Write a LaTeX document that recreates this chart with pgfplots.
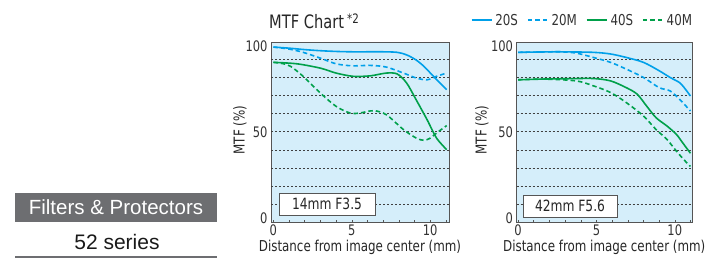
\documentclass[border=0pt]{standalone}
\usepackage{pgfplots}
\pgfplotsset{compat=1.18}
\usepackage{fontspec}
\setmainfont[FakeStretch=0.88]{DejaVu Sans Condensed}
\newfontfamily\arialfont{Liberation Sans}
\definecolor{mtfblue}{HTML}{00A0E9}
\definecolor{mtfgreen}{HTML}{00A04A}
\definecolor{mtfbg}{HTML}{D5EEFA}
\definecolor{frame}{HTML}{555555}
\definecolor{boxgray}{HTML}{6D6E71}
\pgfplotsset{
  mtf/.style={
    scale only axis, width=178bp, height=180bp,
    ymin=0, ymax=99,
    axis background/.style={fill=mtfbg},
    axis line style={frame, line width=0.8bp},
    ytick={2.6,50,97.2}, yticklabels={0,50,100},
    y tick style={draw=none},
    xtick={0,...,11}, xticklabels={0,,,,,5,,,,,10,},
    xtick pos=lower, tick align=inside,
    major tick length=3bp,
    x tick style={frame, line width=0.5bp},
    extra y ticks={10,20,...,90}, extra y tick labels={},
    extra y tick style={grid=major, tick style={draw=none},
      major grid style={black!75, line width=0.6bp, dash pattern=on 2bp off 2bp}},
    tick label style={font=\fontsize{14.5bp}{16bp}\selectfont, text=black!80},
    xticklabel style={yshift=1bp},
    label style={font=\fontsize{15bp}{17bp}\selectfont, text=black!85},
    xlabel={Distance from image center (mm)},
    xlabel style={yshift=3bp},
    ylabel={MTF (\%)},
    clip=true,
  },
  s/.style={line width=1.6bp, smooth},
  m/.style={line width=1.6bp, smooth, dash pattern=on 4.5bp off 3bp},
}
\begin{document}
\begin{tikzpicture}
\path[use as bounding box] (0,0) rectangle (707bp,-262bp);
% left text
\node[fill=boxgray, minimum width=202bp, minimum height=29bp, inner sep=0pt,
  text=white, font=\arialfont\fontsize{20.5bp}{24bp}\selectfont] at (116bp,-207.5bp) {Filters \& Protectors};
\node[font=\arialfont\fontsize{21bp}{24bp}\selectfont, text=black!90] at (117bp,-242bp) {52 series};
\draw[boxgray, line width=2bp] (15bp,-256.5bp) -- (217bp,-256.5bp);
% title
\node[anchor=base west, font=\fontsize{18.5bp}{21bp}\selectfont, text=black!85, inner sep=0pt]
  at (269bp,-28bp) {MTF Chart\,{\fontsize{13bp}{15bp}\selectfont\raisebox{5bp}{*2}}};

\begin{axis}[mtf, at={(271bp,-222.7bp)}, anchor=south west,
  xmin=-0.15, xmax=11.2,
  ylabel style={at={(axis description cs:-0.174,0.515)}, anchor=center}]
\addplot[mtfblue, s] coordinates {(0,96.6) (1,96.0) (2,95.2) (3,94.6) (4,94.2) (5,94.0) (6,94.0) (7,94.0) (7.9,93.7) (8.5,92.3) (9.1,89.5) (9.6,86) (10.1,81.5) (10.6,77) (11.05,73.2)};
\addplot[mtfblue, m] coordinates {(0,96.6) (1,95.5) (1.9,93.7) (3,90.5) (4,87.4) (5,86.3) (6.2,86.5) (7.2,85.6) (8.3,82.3) (9.1,79.6) (9.8,78.6) (10.4,80.5) (11.05,82.3)};
\addplot[mtfgreen, s] coordinates {(0,88.2) (1.5,87.4) (3,85) (4,82.3) (5.1,80.5) (6.2,80.8) (7.2,82.3) (7.9,81.8) (8.5,76.8) (9.1,67.7) (9.8,56.7) (10.4,46.6) (11.05,40.2)};
\addplot[mtfgreen, m] coordinates {(0,88.2) (0.6,87.5) (1.1,86) (1.9,80.5) (3,71.3) (4,64) (4.9,60.3) (5.5,60.3) (6.4,61.6) (7.2,59.4) (8.3,51.2) (9.1,46.6) (9.6,45.3) (10.0,46.5) (10.4,49.3) (11.05,53.4)};
\end{axis}

\begin{axis}[mtf, at={(516.5bp,-222.7bp)}, anchor=south west,
  width=175.5bp, xmin=-0.1, xmax=11.1,
  ylabel style={at={(axis description cs:-0.197,0.515)}, anchor=center},
  legend columns=4,
  legend style={draw=none, fill=none, at={(axis description cs:1.013,1.125)}, anchor=east,
    font=\fontsize{15bp}{17bp}\selectfont, text=black!80, inner sep=0pt,
    /tikz/every even column/.append style={column sep=7bp},
    /tikz/every odd column/.append style={column sep=1bp}},
  legend image code/.code={\draw[#1, sharp plot] (0bp,0bp) -- (20bp,0bp);},
  legend cell align=left]
\addplot[mtfblue, s] coordinates {(0,93.7) (1.5,93.9) (2.7,94) (4.8,93.7) (5.9,92.8) (6.9,90.9) (8,88.2) (9,83.6) (9.7,79.9) (10.3,77.1) (10.6,74.3) (11,69.7)};
\addlegendentry{20S}
\addplot[mtfblue, m] coordinates {(0,93.7) (1.5,93.9) (2.7,94) (3.7,93.3) (4.8,90.9) (5.9,88.2) (6.9,84.5) (8,79.9) (9,74.3) (9.7,72.5) (10.3,67.9) (11,61.5)};
\addlegendentry{20M}
\addplot[mtfgreen, s] coordinates {(0,78.6) (1.6,79) (3.2,79.2) (4.8,79.3) (5.9,78) (6.9,74.3) (7.6,70.7) (8.2,64.2) (8.8,57.8) (9.5,53.2) (10.1,48.6) (10.5,44) (11,38.2)};
\addlegendentry{40S}
\addplot[mtfgreen, m] coordinates {(0,78.6) (1.6,79) (3.7,78) (4.8,75.3) (5.9,71.6) (6.9,66.1) (8,58.7) (8.8,51.3) (9.5,45.8) (10.1,39.4) (10.6,34.5) (11,30.9)};
\addlegendentry{40M}
\end{axis}

\node[draw=frame, fill=white, line width=0.6bp, minimum width=96bp, minimum height=22bp, inner sep=0pt,
  font=\fontsize{15.5bp}{17bp}\selectfont, text=black!85] at (327bp,-204bp) {14mm F3.5};
\node[draw=frame, fill=white, line width=0.6bp, minimum width=94bp, minimum height=22bp, inner sep=0pt,
  font=\fontsize{15.5bp}{17bp}\selectfont, text=black!85] at (570bp,-206bp) {42mm F5.6};
\end{tikzpicture}
\end{document}
